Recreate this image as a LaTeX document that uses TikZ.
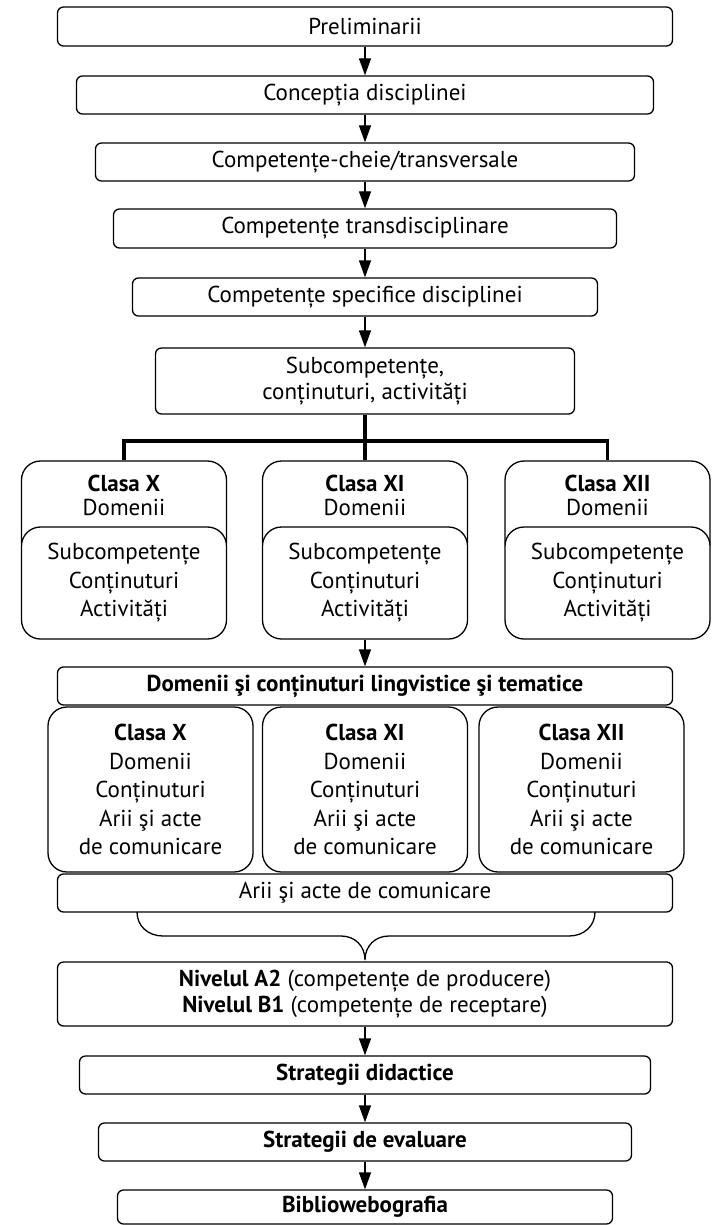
\documentclass[tikz,border=0pt]{standalone}
\usepackage{fontspec}
\setmainfont{PT Sans}
\usetikzlibrary{arrows.meta}

\tikzset{
  box/.style={draw, line width=1.3pt, rounded corners=6pt, fill=white, align=center, inner sep=0pt},
  klasse/.style={box, rounded corners=19pt, font=\fontsize{23}{28.5}\selectfont},
  flow/.style={line width=1.3pt, -{Triangle[width=12pt,length=17pt]}},
  tree/.style={line width=3.5pt},
}

\begin{document}
\begin{tikzpicture}[x=1pt,y=-1pt,font=\fontsize{23}{26}\selectfont]
  \fill[white] (0,0) rectangle (712,1225);
  \useasboundingbox (0,0) rectangle (712,1225);

  % upper chain
  \node[box, minimum width=615pt, minimum height=39pt] (prelim) at (365,26.5) {Preliminarii};
  \node[box, minimum width=577pt, minimum height=38pt] (conc) at (365,95) {Concepția disciplinei};
  \node[box, minimum width=539pt, minimum height=38pt] (cheie) at (365,162) {Competențe-cheie/transversale};
  \node[box, minimum width=503pt, minimum height=39pt] (trans) at (365,228.5) {Competențe transdisciplinare};
  \node[box, minimum width=465pt, minimum height=38pt] (spec) at (365,297) {Competențe specifice disciplinei};
  \node[box, minimum width=419pt, minimum height=66pt] (subc) at (365,381) {Subcompetențe,\\conținuturi, activități};

  % classes, first row
  \foreach \n/\x in {X/124,XI/365,XII/607.5} {
    \node[klasse, minimum width=205pt, minimum height=100pt] (top\n) at (\x,511) {};
    \node[align=center, font=\fontsize{23}{24}\selectfont] (head\n) at (\x,495) {\textbf{Clasa \n}\\Domenii};
    \node[klasse, minimum width=205pt, minimum height=112pt] (low\n) at (\x,583) {Subcompetențe\\Conținuturi\\Activități};
  }
  \coordinate (bus) at (365,441);
  \draw[tree] (subc.south) -- (bus);
  \draw[tree] (topX.north) |- (bus) -| (topXII.north);
  \draw[tree] (bus) -- (topXI.north);

  \node[box, minimum width=615pt, minimum height=38pt] (dom) at (365,686) {\textbf{Domenii şi conținuturi lingvistice şi tematice}};
  \draw[flow] (lowXI) -- (dom);

  % classes, second row
  \foreach \n/\x in {X/150.5,XI/365,XII/581.5}
    \node[klasse, minimum width=205pt, minimum height=165pt] (cls\n) at (\x,789.5)
      {\textbf{Clasa \n}\\Domenii\\Conținuturi\\Arii şi acte\\de comunicare};

  \node[box, minimum width=615pt, minimum height=38pt] (arii) at (365,893) {Arii şi acte de comunicare};

  % brace
  \draw[line width=1.3pt] (137,912) .. controls (137,926) and (148,936) .. (163,936) -- (341,936)
    .. controls (355,936) and (365,946) .. (365,960)
    .. controls (365,946) and (375,936) .. (389,936) -- (569,936)
    .. controls (584,936) and (595,926) .. (595,912);

  % lower chain
  \node[box, minimum width=615pt, minimum height=64pt] (niv) at (365,994)
    {\textbf{Nivelul A2} (competențe de producere)\\\textbf{Nivelul B1} (competențe de receptare)};
  \node[box, minimum width=571pt, minimum height=38pt] (did) at (365,1075) {\textbf{Strategii didactice}};
  \node[box, minimum width=533pt, minimum height=38pt] (eval) at (365,1142) {\textbf{Strategii de evaluare}};
  \node[box, minimum width=495pt, minimum height=34pt] (biblio) at (365,1207) {\textbf{Bibliowebografia}};

  \foreach \a/\b in {prelim/conc,conc/cheie,cheie/trans,trans/spec,spec/subc,niv/did,did/eval,eval/biblio}
    \draw[flow] (\a) -- (\b);
\end{tikzpicture}
\end{document}
